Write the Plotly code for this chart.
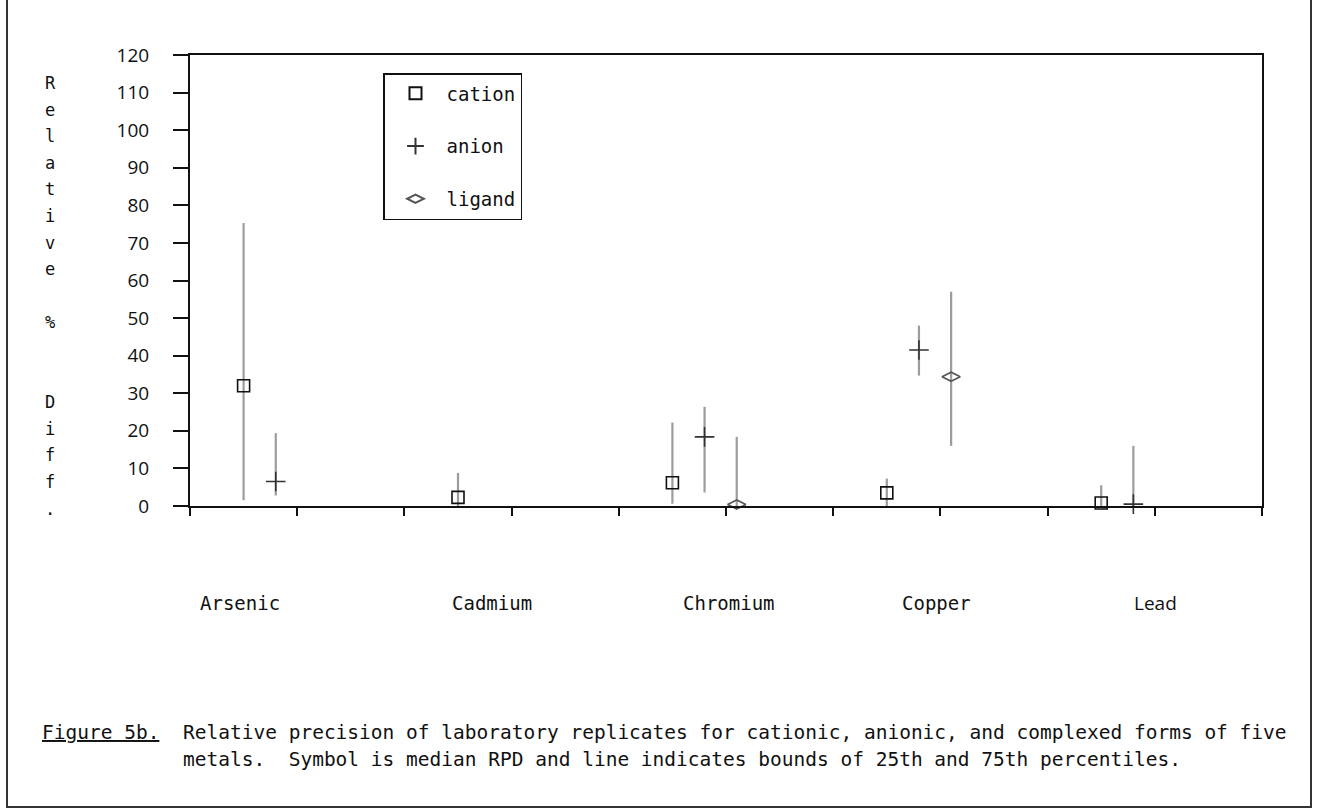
import plotly.graph_objects as go

# ---------------- data ----------------
metals = ["Arsenic", "Cadmium", "Chromium", "Copper", "Lead"]
series_names = ["cation", "anion", "ligand"]

cation_median = [32.0, 2.3, 6.2, 3.5, 0.8]
cation_p25 = [1.5, 0.0, 0.6, -1.0, -1.0]
cation_p75 = [75.3, 8.8, 22.2, 7.3, 5.5]

anion_median = [6.5, None, 18.4, 41.5, 0.5]
anion_p25 = [2.8, None, 3.6, 34.7, 0.0]
anion_p75 = [19.4, None, 26.4, 48.0, 16.0]

ligand_median = [None, None, 0.4, 34.4, None]
ligand_p25 = [None, None, 0.0, 16.0, None]
ligand_p75 = [None, None, 18.4, 57.0, None]

y_tick_values = list(range(0, 121, 10))
y_title_lines = ["R", "e", "l", "a", "t", "i", "v", "e", "", "%", "", "", "D", "i", "f", "f", "."]

caption_tag = "Figure 5b."
caption_lines = [
    "Relative precision of laboratory replicates for cationic, anionic, and complexed forms of five",
    "metals.  Symbol is median RPD and line indicates bounds of 25th and 75th percentiles.",
]

# ---------------- layout geometry ----------------
W, H = 1319, 810
L, R, T, B = 190, 1262, 55, 506
PW, PH = R - L, B - T


def px(x):
    return (x - L) / PW


def py(y):
    return (B - y) / PH


MONO = "DejaVu Sans Mono"
SANS = "Open Sans"

styles = {
    "cation": dict(symbol="square-open", size=12, color="#111111", lw=1.6),
    "anion": dict(symbol="cross-thin-open", size=14, color="#333333", lw=1.6),
    "ligand": dict(symbol="diamond-wide-open", size=13, color="#555555", lw=1.6),
}

series = [
    ("cation", cation_median, cation_p25, cation_p75),
    ("anion", anion_median, anion_p25, anion_p75),
    ("ligand", ligand_median, ligand_p25, ligand_p75),
]

fig = go.Figure()
group_step, first_pos, series_step = 2.0, 0.5, 0.3
for j, (name, med, lo, hi) in enumerate(series):
    xs, ys, up, dn = [], [], [], []
    for i in range(len(metals)):
        if med[i] is None:
            continue
        xs.append(first_pos + group_step * i + series_step * j)
        ys.append(med[i])
        up.append(hi[i] - med[i])
        dn.append(med[i] - lo[i])
    st = styles[name]
    fig.add_trace(go.Scatter(
        x=xs, y=ys, mode="markers", name=name, legendgroup=name,
        cliponaxis=False,
        marker=dict(symbol=st["symbol"], size=st["size"], color=st["color"],
                    line=dict(width=st["lw"], color=st["color"])),
        error_y=dict(type="data", symmetric=False, array=up, arrayminus=dn,
                     color="#9c9c9c", thickness=2.2, width=0),
    ))

annotations = []
# category labels under the axis
label_pos = [0.47, 2.82, 5.03, 6.96, 9.01]
for k, m in enumerate(metals):
    annotations.append(dict(
        x=label_pos[k], y=py(603), xref="x", yref="paper", text=m,
        showarrow=False, xanchor="center", yanchor="middle",
        font=dict(family=SANS if m == "Lead" else MONO, size=19, color="#111"),
    ))

# vertical y-axis title, one letter per line
for k, ch in enumerate(y_title_lines):
    if not ch:
        continue
    annotations.append(dict(
        x=px(50), y=py(83 + 26.6 * k), xref="paper", yref="paper", text=ch,
        showarrow=False, xanchor="center", yanchor="middle",
        font=dict(family=MONO, size=17, color="#111"),
    ))

# caption
annotations.append(dict(
    x=px(40), y=py(732), xref="paper", yref="paper", text="<u>" + caption_tag + "</u>",
    showarrow=False, xanchor="left", yanchor="middle",
    font=dict(family=MONO, size=19.5, color="#111"),
))
for k, line in enumerate(caption_lines):
    annotations.append(dict(
        x=px(181), y=py(732 + 27 * k), xref="paper", yref="paper",
        text=line.replace("  ", "\u00a0 "),
        showarrow=False, xanchor="left", yanchor="middle",
        font=dict(family=MONO, size=19.5, color="#111"),
    ))

# page frame (left, bottom, right)
shapes = [
    dict(type="path", xref="paper", yref="paper",
         path="M {a},{t} L {a},{b} L {c},{b} L {c},{t}".format(
             a=px(7), c=px(1311), b=py(807), t=py(-5)),
         line=dict(color="#333", width=2)),
]

fig.update_layout(
    width=W, height=H,
    margin=dict(l=L, r=W - R, t=T, b=H - B, pad=0),
    paper_bgcolor="white", plot_bgcolor="white",
    showlegend=True,
    legend=dict(
        x=px(383), y=py(73), xanchor="left", yanchor="top",
        bordercolor="#111", borderwidth=1.5, bgcolor="white",
        font=dict(family=MONO, size=19, color="#111"),
        traceorder="grouped", tracegroupgap=25,
        itemsizing="constant", itemwidth=52,
    ),
    annotations=annotations,
    shapes=shapes,
)
fig.update_xaxes(
    range=[0, 10], tickvals=list(range(0, 11)), showticklabels=False,
    ticks="outside", ticklen=8, tickwidth=1.5, tickcolor="#111",
    showline=True, linecolor="#111", linewidth=2, mirror=True,
    showgrid=False, zeroline=False,
)
fig.update_yaxes(
    range=[0, 120], tickvals=y_tick_values,
    ticks="outside", ticklen=15, tickwidth=1.5, tickcolor="#111",
    ticklabelstandoff=20,
    tickfont=dict(family=SANS, size=19, color="#111"),
    showline=True, linecolor="#111", linewidth=2, mirror=True,
    showgrid=False, zeroline=False,
)

fig.write_html(
    "out.html",
    config={"displayModeBar": False},
    post_script="document.body.style.margin='0';document.body.style.overflow='hidden';",
)
